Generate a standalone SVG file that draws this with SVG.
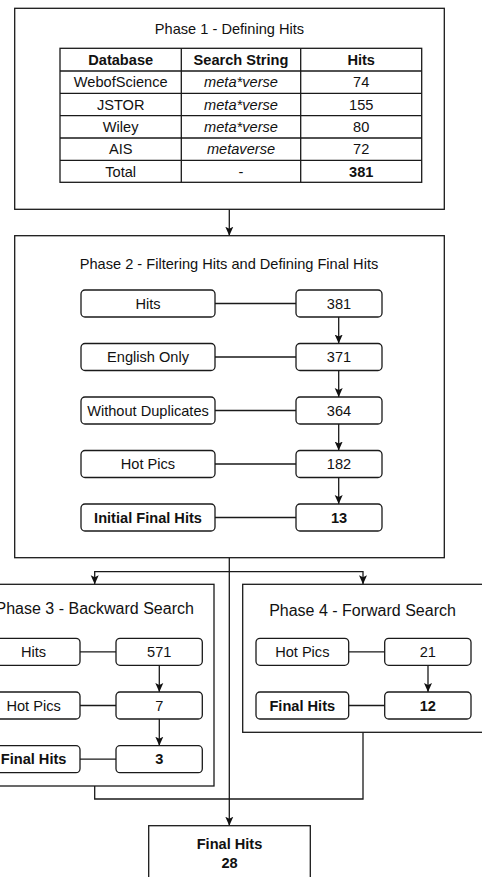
<svg xmlns="http://www.w3.org/2000/svg" width="482" height="877" viewBox="0 0 482 877">
<style>
  .box{fill:#fff;stroke:#1a1a1a;stroke-width:1.3}
  .rbox{fill:#fff;stroke:#1a1a1a;stroke-width:1.3}
  .ln{fill:none;stroke:#1a1a1a;stroke-width:1.3}
  text{font-family:"Liberation Sans",Arial,sans-serif;font-size:14.6px;fill:#111;text-anchor:middle}
  .b{font-weight:bold}
  .i{font-style:italic}
  .t16{font-size:16px}
</style>
<defs>
  <marker id="arr" markerUnits="userSpaceOnUse" markerWidth="10" markerHeight="10" viewBox="0 0 10 10" refX="9" refY="5" orient="auto">
    <path d="M0,1 L9,5 L0,9 L2,5 Z" fill="#111"/>
  </marker>
</defs>

<g id="connectors">
  <path class="ln" d="M229.3,209.3 V235.7" marker-end="url(#arr)"/>
  <path class="ln" d="M229.3,557.7 V825.7" marker-end="url(#arr)"/>
  <path class="ln" d="M229.3,571.7 H94.7 V584.3" marker-end="url(#arr)"/>
  <path class="ln" d="M229.3,571.7 H363 V584.3" marker-end="url(#arr)"/>
  <path class="ln" d="M94.7,786 V799 H363 V732.3"/>
</g>

<g id="phase1">
  <rect class="box" x="14.7" y="8.3" width="429.6" height="201"/>
  <text x="229.5" y="34.3">Phase 1 - Defining Hits</text>
  <g id="table">
    <rect class="box" x="60" y="48.3" width="361.7" height="134"/>
    <path class="ln" d="M181.3,48.3 V182.3 M300.7,48.3 V182.3 M60,71 H421.7 M60,93.3 H421.7 M60,115.7 H421.7 M60,138 H421.7 M60,160.3 H421.7"/>
    <text class="b" x="120.7" y="65.2">Database</text>
    <text class="b" x="241" y="65.2">Search String</text>
    <text class="b" x="361.2" y="65.2">Hits</text>
    <text x="120.7" y="87.3">WebofScience</text>
    <text class="i" x="241" y="87.3">meta*verse</text>
    <text x="361.2" y="87.3">74</text>
    <text x="120.7" y="109.6">JSTOR</text>
    <text class="i" x="241" y="109.6">meta*verse</text>
    <text x="361.2" y="109.6">155</text>
    <text x="120.7" y="132">Wiley</text>
    <text class="i" x="241" y="132">meta*verse</text>
    <text x="361.2" y="132">80</text>
    <text x="120.7" y="154.3">AIS</text>
    <text class="i" x="241" y="154.3">metaverse</text>
    <text x="361.2" y="154.3">72</text>
    <text x="120.7" y="176.6">Total</text>
    <text x="241" y="176.6">-</text>
    <text class="b" x="361.2" y="176.6">381</text>
  </g>
</g>

<g id="phase2">
  <rect class="box" x="14.7" y="235.7" width="429.6" height="322"/>
  <text x="229" y="268.7">Phase 2 - Filtering Hits and Defining Final Hits</text>
  <path class="ln" d="M215,303.5 H296 M215,357 H296 M215,410.5 H296 M215,464 H296 M215,517.5 H296"/>
  <path class="ln" d="M338.7,317 V343.5" marker-end="url(#arr)"/>
  <path class="ln" d="M338.7,370.5 V397" marker-end="url(#arr)"/>
  <path class="ln" d="M338.7,424 V450.5" marker-end="url(#arr)"/>
  <path class="ln" d="M338.7,477.5 V504" marker-end="url(#arr)"/>
  <g id="p2-hits"><rect class="rbox" x="81" y="290" width="134" height="27" rx="4"/><text x="148" y="308.5">Hits</text></g>
  <g id="p2-381"><rect class="rbox" x="296" y="290" width="86" height="27" rx="4"/><text x="339" y="308.5">381</text></g>
  <g id="p2-english"><rect class="rbox" x="81" y="343.5" width="134" height="27" rx="4"/><text x="148" y="362">English Only</text></g>
  <g id="p2-371"><rect class="rbox" x="296" y="343.5" width="86" height="27" rx="4"/><text x="339" y="362">371</text></g>
  <g id="p2-dup"><rect class="rbox" x="81" y="397" width="134" height="27" rx="4"/><text x="148" y="415.5">Without Duplicates</text></g>
  <g id="p2-364"><rect class="rbox" x="296" y="397" width="86" height="27" rx="4"/><text x="339" y="415.5">364</text></g>
  <g id="p2-hot"><rect class="rbox" x="81" y="450.5" width="134" height="27" rx="4"/><text x="148" y="469">Hot Pics</text></g>
  <g id="p2-182"><rect class="rbox" x="296" y="450.5" width="86" height="27" rx="4"/><text x="339" y="469">182</text></g>
  <g id="p2-ifh"><rect class="rbox" x="81" y="504" width="134" height="27" rx="4"/><text class="b" x="148" y="522.5">Initial Final Hits</text></g>
  <g id="p2-13"><rect class="rbox" x="296" y="504" width="86" height="27" rx="4"/><text class="b" x="339" y="522.5">13</text></g>
</g>

<g id="phase3">
  <rect class="box" x="-25" y="584.3" width="239" height="201.7"/>
  <text class="t16" x="94.7" y="614">Phase 3 - Backward Search</text>
  <path class="ln" d="M80,651.8 H116 M80,705.5 H116 M80,759.2 H116"/>
  <path class="ln" d="M159.3,665.3 V692" marker-end="url(#arr)"/>
  <path class="ln" d="M159.3,719 V745.7" marker-end="url(#arr)"/>
  <g id="p3-hits"><rect class="rbox" x="-12.7" y="638.3" width="92.7" height="27" rx="4"/><text x="33.6" y="656.8">Hits</text></g>
  <g id="p3-571"><rect class="rbox" x="116" y="638.3" width="86.3" height="27" rx="4"/><text x="159.2" y="656.8">571</text></g>
  <g id="p3-hot"><rect class="rbox" x="-12.7" y="692" width="92.7" height="27" rx="4"/><text x="33.6" y="710.5">Hot Pics</text></g>
  <g id="p3-7"><rect class="rbox" x="116" y="692" width="86.3" height="27" rx="4"/><text x="159.2" y="710.5">7</text></g>
  <g id="p3-fh"><rect class="rbox" x="-12.7" y="745.7" width="92.7" height="27" rx="4"/><text class="b" x="33.6" y="764.2">Final Hits</text></g>
  <g id="p3-3"><rect class="rbox" x="116" y="745.7" width="86.3" height="27" rx="4"/><text class="b" x="159.2" y="764.2">3</text></g>
</g>

<g id="phase4">
  <rect class="box" x="242.7" y="584.3" width="240.6" height="148"/>
  <text class="t16" x="362.5" y="615.5">Phase 4 - Forward Search</text>
  <path class="ln" d="M348.7,651.8 H384.7 M348.7,705.5 H384.7"/>
  <path class="ln" d="M428,665.3 V692" marker-end="url(#arr)"/>
  <g id="p4-hot"><rect class="rbox" x="256" y="638.3" width="92.7" height="27" rx="4"/><text x="302.3" y="656.8">Hot Pics</text></g>
  <g id="p4-21"><rect class="rbox" x="384.7" y="638.3" width="86.3" height="27" rx="4"/><text x="427.8" y="656.8">21</text></g>
  <g id="p4-fh"><rect class="rbox" x="256" y="692" width="92.7" height="27" rx="4"/><text class="b" x="302.3" y="710.5">Final Hits</text></g>
  <g id="p4-12"><rect class="rbox" x="384.7" y="692" width="86.3" height="27" rx="4"/><text class="b" x="427.8" y="710.5">12</text></g>
</g>

<g id="final">
  <rect class="box" x="148.7" y="825.7" width="161.6" height="60"/>
  <text class="b" x="229.5" y="849">Final Hits</text>
  <text class="b" x="229.5" y="867.5">28</text>
</g>
</svg>
